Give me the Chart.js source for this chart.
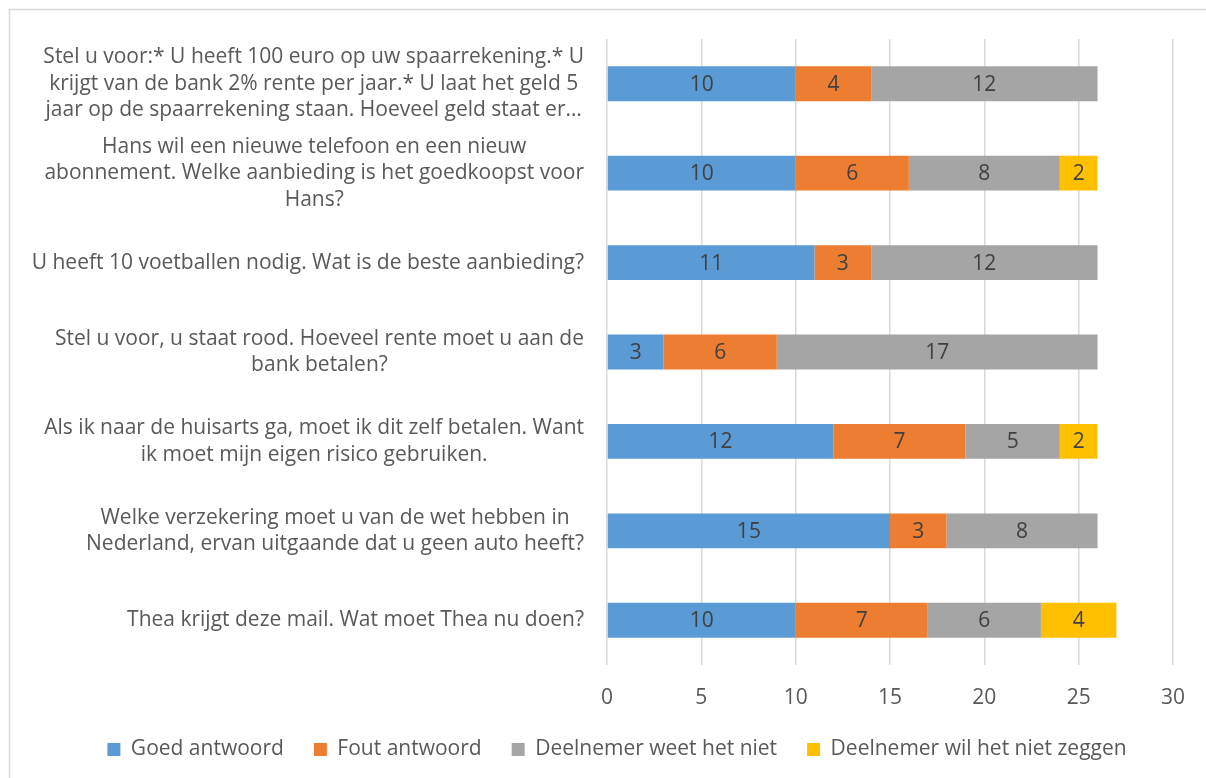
<!DOCTYPE html>
<html>
<head>
<meta charset="utf-8">
<script src="https://cdn.jsdelivr.net/npm/chart.js@4/dist/chart.umd.min.js"></script>
<style>
  html, body { margin: 0; padding: 0; background: #fff; }
  #wrap { width: 1206px; height: 778px; }
</style>
</head>
<body>
<div id="wrap"><canvas id="chart" width="1206" height="778"></canvas></div>
<script>
// Vragen (van boven naar beneden)
const categories = [
  ["Stel u voor:* U heeft 100 euro op uw spaarrekening.* U",
   "krijgt van de bank 2% rente per jaar.* U laat het geld 5",
   "jaar op de spaarrekening staan. Hoeveel geld staat er…"],
  ["Hans wil een nieuwe telefoon en een nieuw",
   "abonnement. Welke aanbieding is het goedkoopst voor",
   "Hans?"],
  ["U heeft 10 voetballen nodig. Wat is de beste aanbieding?"],
  ["Stel u voor, u staat rood. Hoeveel rente moet u aan de",
   "bank betalen?"],
  ["Als ik naar de huisarts ga, moet ik dit zelf betalen. Want",
   "ik moet mijn eigen risico gebruiken."],
  ["Welke verzekering moet u van de wet hebben in",
   "Nederland, ervan uitgaande dat u geen auto heeft?"],
  ["Thea krijgt deze mail. Wat moet Thea nu doen?"],
];

const seriesNames = ["Goed antwoord", "Fout antwoord", "Deelnemer weet het niet", "Deelnemer wil het niet zeggen"];
const goedAntwoord = [10, 10, 11, 3, 12, 15, 10];
const foutAntwoord = [4, 6, 3, 6, 7, 3, 7];
const weetNiet = [12, 8, 12, 17, 5, 8, 6];
const wilNietZeggen = [null, 2, null, null, 2, null, 4];

const xTicks = { min: 0, max: 30, step: 5 };

const colors = ["#5B9BD5", "#ED7D31", "#A5A5A5", "#FFC000"];
const FONT = "'Open Sans', 'Noto Sans', sans-serif";
const FONT_SIZE = 21;
const TEXT_COLOR = "#595959";

// labels in de balken
const barLabels = {
  id: "barLabels",
  afterDatasetsDraw(chart) {
    const ctx = chart.ctx;
    ctx.save();
    ctx.font = FONT_SIZE + "px " + FONT;
    ctx.fillStyle = "#404040";
    ctx.textAlign = "center";
    ctx.textBaseline = "middle";
    chart.data.datasets.forEach((ds, di) => {
      const meta = chart.getDatasetMeta(di);
      meta.data.forEach((bar, i) => {
        const v = ds.data[i];
        if (!v) return;
        ctx.fillText(String(v), (bar.x + bar.base) / 2, bar.y + 1);
      });
    });
    ctx.restore();
  },
};

// categorie-labels: elk blok gecentreerd, blok rechts uitgelijnd
const categoryLabels = {
  id: "categoryLabels",
  afterDraw(chart) {
    const ctx = chart.ctx;
    const y = chart.scales.y;
    const right = y.right - 23;
    const lineH = 26.5;
    ctx.save();
    ctx.font = FONT_SIZE + "px " + FONT;
    ctx.fillStyle = TEXT_COLOR;
    ctx.textAlign = "center";
    ctx.textBaseline = "middle";
    categories.forEach((lines, i) => {
      const cy = y.getPixelForTick(i);
      const w = Math.max(...lines.map((l) => ctx.measureText(l).width));
      const cx = right - w / 2;
      lines.forEach((l, j) => {
        ctx.fillText(l, cx, cy + (j - (lines.length - 1) / 2) * lineH);
      });
    });
    ctx.restore();
  },
};

// kader rond de grafiek
const chartBorder = {
  id: "chartBorder",
  beforeDraw(chart) {
    const ctx = chart.ctx;
    ctx.save();
    ctx.strokeStyle = "#D9D9D9";
    ctx.lineWidth = 1.5;
    ctx.strokeRect(9.5, 9.5, chart.width + 20, chart.height + 20);
    ctx.restore();
  },
};

new Chart(document.getElementById("chart"), {
  type: "bar",
  data: {
    labels: categories,
    datasets: [
      { label: seriesNames[0], data: goedAntwoord, backgroundColor: colors[0] },
      { label: seriesNames[1], data: foutAntwoord, backgroundColor: colors[1] },
      { label: seriesNames[2], data: weetNiet, backgroundColor: colors[2] },
      { label: seriesNames[3], data: wilNietZeggen, backgroundColor: colors[3] },
    ],
  },
  options: {
    indexAxis: "y",
    responsive: false,
    animation: false,
    layout: { padding: { top: 39, right: 33, left: 61, bottom: 8 } },
    datasets: {
      bar: { categoryPercentage: 1, barPercentage: 0.39 },
    },
    plugins: {
      legend: {
        position: "bottom",
        labels: {
          boxWidth: 13,
          boxHeight: 13,
          padding: 30,
          color: TEXT_COLOR,
          font: { family: FONT, size: FONT_SIZE },
        },
      },
      tooltip: { enabled: false },
    },
    scales: {
      x: {
        stacked: true,
        min: xTicks.min,
        max: xTicks.max,
        ticks: {
          stepSize: xTicks.step,
          color: TEXT_COLOR,
          padding: 20,
          font: { family: FONT, size: FONT_SIZE },
        },
        grid: { color: "#D9D9D9", lineWidth: 1.5, drawTicks: false },
        border: { display: false },
        afterFit(scale) {
          scale.height = 44;
        },
      },
      y: {
        stacked: true,
        ticks: { display: false },
        grid: { display: false },
        border: { display: false },
        afterFit(scale) {
          scale.width = 546;
        },
      },
    },
  },
  plugins: [chartBorder, barLabels, categoryLabels],
});
</script>
</body>
</html>
